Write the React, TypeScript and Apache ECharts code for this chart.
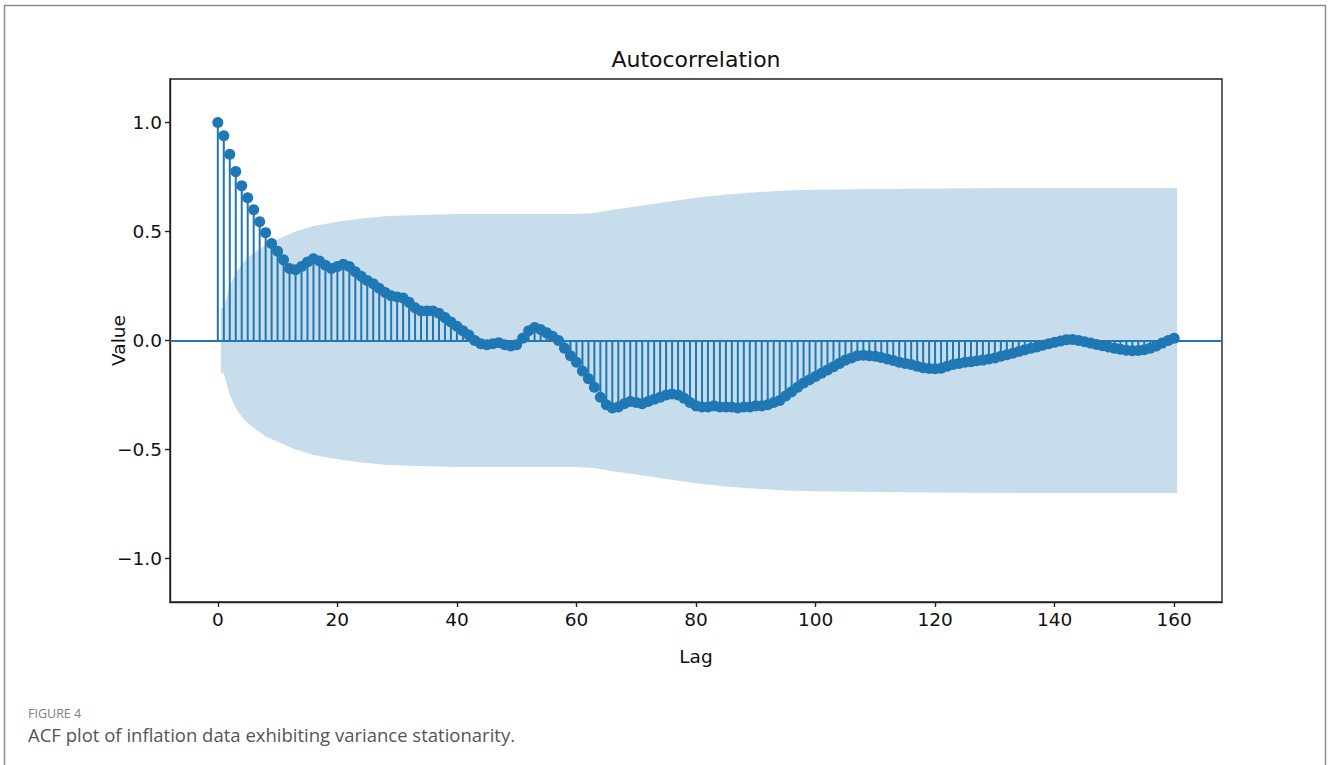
import React, { useEffect, useRef } from "react";
import * as echarts from "echarts";

// ACF values for lags 0..160 (index = lag)
const acfValues = [
  1.0, 0.94, 0.855, 0.775, 0.71, 0.655, 0.6, 0.545, 0.495, 0.445,
  0.41, 0.37, 0.33, 0.325, 0.34, 0.36, 0.375, 0.365, 0.345, 0.33,
  0.34, 0.35, 0.34, 0.315, 0.295, 0.275, 0.26, 0.24, 0.22, 0.205,
  0.2, 0.195, 0.175, 0.15, 0.135, 0.135, 0.135, 0.125, 0.105, 0.085,
  0.065, 0.045, 0.025, 0.0, -0.015, -0.02, -0.015, -0.01, -0.02, -0.025,
  -0.02, 0.01, 0.045, 0.06, 0.05, 0.035, 0.02, 0.0, -0.035, -0.07,
  -0.1, -0.14, -0.175, -0.215, -0.26, -0.295, -0.31, -0.305, -0.29, -0.28,
  -0.285, -0.29, -0.28, -0.27, -0.26, -0.25, -0.245, -0.25, -0.265, -0.285,
  -0.3, -0.305, -0.305, -0.3, -0.305, -0.305, -0.305, -0.31, -0.305, -0.305,
  -0.3, -0.3, -0.295, -0.285, -0.275, -0.255, -0.235, -0.215, -0.195, -0.18,
  -0.165, -0.15, -0.135, -0.12, -0.105, -0.09, -0.08, -0.07, -0.068, -0.07,
  -0.072, -0.078, -0.085, -0.092, -0.1, -0.105, -0.11, -0.118, -0.125, -0.128,
  -0.13, -0.127, -0.118, -0.11, -0.105, -0.1, -0.097, -0.093, -0.09, -0.085,
  -0.08, -0.072, -0.065, -0.058, -0.05, -0.043, -0.036, -0.03, -0.022, -0.015,
  -0.008, -0.002, 0.004, 0.005, 0.0, -0.006, -0.012, -0.018, -0.024, -0.03,
  -0.035, -0.04, -0.045, -0.047, -0.046, -0.042, -0.035, -0.025, -0.012, 0.0,
  0.01,
];

// Confidence band: lags and half-widths (symmetric around 0)
const bandLags = [0.5, 1, 2, 3, 4, 5, 6, 8, 10, 13, 16, 20, 24, 28, 32, 40, 50, 60, 63, 66, 70, 75, 80, 85, 90, 95, 100, 110, 120, 140, 160.5];
const bandHalfWidth = [0.15, 0.15, 0.25, 0.31, 0.35, 0.38, 0.4, 0.44, 0.465, 0.5, 0.525, 0.545, 0.56, 0.57, 0.575, 0.58, 0.58, 0.58, 0.585, 0.6, 0.615, 0.635, 0.655, 0.67, 0.68, 0.688, 0.692, 0.695, 0.698, 0.7, 0.7];

const xTicks = [0, 20, 40, 60, 80, 100, 120, 140, 160];
const yTicks = [-1.0, -0.5, 0.0, 0.5, 1.0];

const C0 = "#1f77b4";
const FONT = "DejaVu Sans";

export default function App() {
  const ref = useRef<HTMLDivElement>(null);
  useEffect(() => {
    if (!ref.current) return;
    const chart = echarts.init(ref.current, undefined, { renderer: "svg" });
    const points = acfValues.map((v, i) => [i, v]);
    const gridLeft = 170, gridTop = 79, gridW = 1052, gridH = 523;
    chart.setOption({
      animation: false,
      backgroundColor: "#ffffff",
      grid: {
        left: gridLeft,
        top: gridTop,
        width: gridW,
        height: gridH,
        show: true,
        borderColor: "#222",
        borderWidth: 1.4,
        backgroundColor: "transparent",
      },
      xAxis: {
        type: "value",
        min: -8,
        max: 168,
        name: "Lag",
        nameLocation: "middle",
        nameGap: 45,
        nameMoveOverlap: false,
        nameTextStyle: { fontFamily: FONT, fontSize: 18.5, color: "#111" },
        axisLine: { show: true, onZero: false, lineStyle: { color: "#222", width: 1.4 } },
        axisTick: { show: true, customValues: xTicks, length: 5, lineStyle: { color: "#222", width: 1.4 } },
        axisLabel: { customValues: xTicks, fontFamily: FONT, fontSize: 18.5, color: "#111", margin: 8 },
        splitLine: { show: false },
      },
      yAxis: {
        type: "value",
        min: -1.2,
        max: 1.2,
        name: "Value",
        nameLocation: "middle",
        nameGap: 42,
        nameMoveOverlap: false,
        nameRotate: 90,
        nameTextStyle: { fontFamily: FONT, fontSize: 18.5, color: "#111" },
        axisLine: { show: true, onZero: false, lineStyle: { color: "#222", width: 1.4 } },
        axisTick: { show: true, customValues: yTicks, length: 5, lineStyle: { color: "#222", width: 1.4 } },
        axisLabel: {
          customValues: yTicks,
          fontFamily: FONT,
          fontSize: 18.5,
          color: "#111",
          margin: 8,
          formatter: (v: number) => (v < 0 ? "\u2212" + Math.abs(v).toFixed(1) : v.toFixed(1)),
        },
        splitLine: { show: false },
      },
      graphic: [
        {
          type: "rect",
          shape: { x: 4.5, y: 5.5, width: 1321, height: 800 },
          style: { fill: "none", stroke: "#8c8c8c", lineWidth: 1.5 },
          silent: true,
        },
        {
          type: "text",
          x: gridLeft + gridW / 2,
          y: 59,
          style: { text: "Autocorrelation", fontFamily: FONT, fontSize: 22, fill: "#111", textAlign: "center", textVerticalAlign: "middle" },
        },
        {
          type: "text",
          x: 28,
          y: 713,
          style: { text: "FIGURE 4", fontFamily: "Open Sans", fontSize: 12.5, fill: "#808080", textAlign: "left", textVerticalAlign: "middle" },
        },
        {
          type: "text",
          x: 28,
          y: 734,
          style: { text: "ACF plot of inflation data exhibiting variance stationarity.", fontFamily: "Open Sans", fontSize: 18.5, fill: "#555", textAlign: "left", textVerticalAlign: "middle" },
        },
      ],
      series: [
        {
          type: "custom",
          name: "band",
          z: 1,
          silent: true,
          data: bandLags.map((l, i) => [l, bandHalfWidth[i]]),
          renderItem: (params: any, api: any) => {
            if (params.dataIndex !== 0) return { type: "group", children: [] };
            const upper = bandLags.map((l, i) => api.coord([l, bandHalfWidth[i]]));
            const lower = bandLags.map((l, i) => api.coord([l, -bandHalfWidth[i]])).reverse();
            return {
              type: "polygon",
              shape: { points: upper.concat(lower) },
              style: { fill: "rgba(31,119,180,0.25)", stroke: "none" },
            };
          },
        },
        {
          type: "custom",
          name: "stems",
          z: 2,
          silent: true,
          data: points,
          renderItem: (params: any, api: any) => {
            const p0 = api.coord([api.value(0), 0]);
            const p1 = api.coord([api.value(0), api.value(1)]);
            return {
              type: "line",
              shape: { x1: p0[0], y1: p0[1], x2: p1[0], y2: p1[1] },
              style: { stroke: C0, lineWidth: 2 },
            };
          },
        },
        {
          type: "scatter",
          name: "acf",
          z: 3,
          data: points,
          symbol: "circle",
          symbolSize: 11,
          itemStyle: { color: C0, opacity: 1 },
          markLine: {
            silent: true,
            symbol: ["none", "none"],
            label: { show: false },
            lineStyle: { color: C0, width: 2.2, type: "solid" },
            data: [{ yAxis: 0 }],
          },
        },
      ],
    });
    return () => chart.dispose();
  }, []);
  return <div ref={ref} style={{ position: "fixed", left: 0, top: 0, width: 1328, height: 765 }} />;
}
